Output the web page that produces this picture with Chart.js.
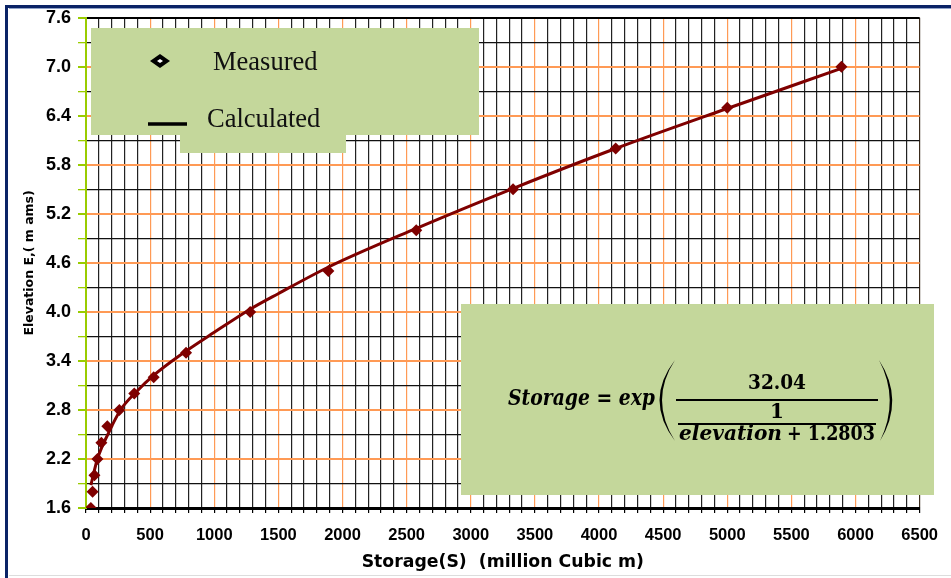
<!DOCTYPE html>
<html>
<head>
<meta charset="utf-8">
<script src="https://cdn.jsdelivr.net/npm/chart.js@4.4.1/dist/chart.umd.min.js"></script>
<style>
  html, body { margin: 0; padding: 0; background: #fff; }
  #wrap { width: 951px; height: 578px; }
</style>
</head>
<body>
<div id="wrap"><canvas id="elevChart" width="951" height="578"></canvas></div>
<script>
// measured points (storage in million m3, elevation in m)
const measuredStorage = [38, 51, 66, 89, 120, 166, 260, 376, 528, 780, 1280, 1890, 2575, 3330, 4130, 5000, 5890];
const measuredElevation = [1.6, 1.8, 2.0, 2.2, 2.4, 2.6, 2.8, 3.0, 3.2, 3.5, 4.0, 4.5, 5.0, 5.5, 6.0, 6.5, 7.0];

// calculated curve
const calcStorage = [38, 89, 179, 269, 397, 525, 725, 1000, 1277, 1495, 1892, 2572, 3328, 4130, 5000, 5890];
const calcElevation = [1.88, 2.20, 2.53, 2.80, 3.03, 3.22, 3.46, 3.75, 4.03, 4.22, 4.55, 5.02, 5.51, 6.00, 6.49, 6.98];

const xTickLabels = [0, 500, 1000, 1500, 2000, 2500, 3000, 3500, 4000, 4500, 5000, 5500, 6000, 6500];
const yTickLabels = [1.6, 2.2, 2.8, 3.4, 4.0, 4.6, 5.2, 5.8, 6.4, 7.0, 7.6];

const seriesColor = '#7f0000';
const boxGreen = '#c4d79b';
const orange = '#ff9a55';

function isYLabel(v) {
    return yTickLabels.some(t => Math.abs(t - v) < 1e-6);
}

// white page + navy frame
const framePlugin = {
    id: 'frame',
    beforeDraw(chart) {
        const ctx = chart.ctx;
        ctx.save();
        ctx.fillStyle = '#fff';
        ctx.fillRect(0, 0, chart.width, chart.height);
        ctx.strokeStyle = '#0a2366';
        ctx.lineWidth = 3;
        ctx.strokeRect(6.5, 6.5, 1000, 600);
        ctx.strokeStyle = '#8fa2c8';
        ctx.lineWidth = 1;
        ctx.beginPath();
        ctx.moveTo(9, 8.5); ctx.lineTo(951, 8.5);
        ctx.stroke();
        ctx.strokeStyle = '#dddddd';
        ctx.beginPath();
        ctx.moveTo(9, 575.5); ctx.lineTo(951, 575.5);
        ctx.stroke();
        ctx.restore();
    }
};

function fitText(ctx, text, x, y, width) {
    const w = ctx.measureText(text).width;
    ctx.save();
    ctx.translate(x, y);
    ctx.scale(width / w, 1);
    ctx.fillText(text, 0, 0);
    ctx.restore();
}

// legend box and equation box
const overlayPlugin = {
    id: 'overlays',
    afterDraw(chart) {
        const ctx = chart.ctx;
        ctx.save();

        // legend
        ctx.fillStyle = boxGreen;
        ctx.fillRect(91, 28, 388, 107);
        ctx.fillRect(180, 132, 166, 21);

        ctx.fillStyle = '#000';
        ctx.beginPath();
        ctx.moveTo(150, 61); ctx.lineTo(160, 54); ctx.lineTo(170, 61); ctx.lineTo(160, 68);
        ctx.closePath();
        ctx.fill();
        ctx.fillStyle = '#fff';
        ctx.beginPath();
        ctx.moveTo(157, 61); ctx.lineTo(160, 59); ctx.lineTo(163, 61); ctx.lineTo(160, 63);
        ctx.closePath();
        ctx.fill();

        ctx.strokeStyle = '#000';
        ctx.lineWidth = 3.5;
        ctx.beginPath();
        ctx.moveTo(148, 124); ctx.lineTo(187, 124);
        ctx.stroke();

        ctx.fillStyle = '#111';
        ctx.font = '26.5px "Liberation Serif"';
        ctx.textBaseline = 'alphabetic';
        ctx.fillText('Measured', 213, 70);
        ctx.fillText('Calculated', 207, 127);

        // equation box
        ctx.fillStyle = boxGreen;
        ctx.fillRect(461, 304, 473, 191);

        ctx.fillStyle = '#000';
        ctx.font = 'bold italic 22px "DejaVu Serif"';
        fitText(ctx, 'Storage = exp', 508, 405, 147);
        ctx.font = 'bold 20px "DejaVu Serif"';
        fitText(ctx, '32.04', 748, 389, 58);
        ctx.textAlign = 'center';
        ctx.fillText('1', 777, 418);
        ctx.textAlign = 'left';
        ctx.font = 'bold italic 21px "DejaVu Serif"';
        fitText(ctx, 'elevation', 679, 440, 103);
        ctx.font = 'bold 21px "DejaVu Serif"';
        fitText(ctx, '+ 1.2803', 787, 440, 88);

        ctx.fillRect(676, 399, 202, 2);
        ctx.fillRect(678, 423, 198, 2);

        // big parentheses
        ctx.beginPath();
        ctx.moveTo(675, 360);
        ctx.quadraticCurveTo(644, 400, 675, 441);
        ctx.quadraticCurveTo(649, 400, 675, 360);
        ctx.fill();
        ctx.beginPath();
        ctx.moveTo(879, 360);
        ctx.quadraticCurveTo(905, 400, 880, 441);
        ctx.quadraticCurveTo(900, 400, 879, 360);
        ctx.fill();

        ctx.restore();
    }
};

const xTickFont = { family: '"Liberation Sans", Arial', size: 16.5, weight: 'bold' };
const yTickFont = { family: '"Liberation Sans", Arial', size: 18, weight: 'bold' };

new Chart(document.getElementById('elevChart'), {
    type: 'scatter',
    data: {
        datasets: [{
            label: 'Measured',
            data: measuredStorage.map((s, i) => ({ x: s, y: measuredElevation[i] })),
            pointStyle: 'rectRot',
            pointRadius: 6,
            backgroundColor: seriesColor,
            borderColor: seriesColor,
            borderWidth: 0,
            showLine: false,
        }, {
            label: 'Calculated',
            data: calcStorage.map((s, i) => ({ x: s, y: calcElevation[i] })),
            showLine: true,
            pointRadius: 0,
            borderColor: seriesColor,
            borderWidth: 3,
            cubicInterpolationMode: 'monotone',
        }]
    },
    options: {
        responsive: false,
        animation: false,
        layout: { padding: { left: 0, right: 20, top: 17, bottom: 0 } },
        plugins: {
            legend: { display: false },
            tooltip: { enabled: false }
        },
        scales: {
            x: {
                type: 'linear',
                min: 0,
                max: 6500,
                afterFit: s => { s.height = 70; },
                border: { color: '#000', width: 3 },
                grid: {
                    color: c => {
                        const v = c.tick.value;
                        if (v === 0) return 'rgba(0,0,0,0)';
                        if (v === 6500) return '#3a2a1a';
                        return xTickLabels.includes(v) ? orange : '#222';
                    },
                    lineWidth: 1.2,
                    tickColor: '#000',
                    tickLength: 5,
                },
                ticks: {
                    stepSize: 100,
                    autoSkip: false,
                    maxRotation: 0,
                    padding: 13,
                    color: '#000',
                    font: xTickFont,
                    callback: v => xTickLabels.includes(v) ? String(v) : ''
                },
                title: {
                    display: true,
                    text: 'Storage(S)  (million Cubic m)',
                    color: '#000',
                    font: { family: '"DejaVu Sans"', size: 17.3, weight: 'bold' },
                    padding: { top: 0, bottom: 5 }
                }
            },
            y: {
                min: 1.6,
                max: 7.6,
                afterFit: s => { s.width = 86; },
                border: { color: '#99cc00', width: 2 },
                grid: {
                    color: c => {
                        const v = c.tick.value;
                        if (Math.abs(v - 7.6) < 1e-6) return '#000';
                        return isYLabel(v) ? orange : '#111';
                    },
                    lineWidth: c => isYLabel(c.tick.value) ? 2 : 1.3,
                    tickColor: '#99cc00',
                    tickLength: 8,
                },
                ticks: {
                    stepSize: 0.3,
                    autoSkip: false,
                    padding: 7,
                    color: '#000',
                    font: yTickFont,
                    callback: v => isYLabel(v) ? Number(v).toFixed(1) : ''
                },
                title: {
                    display: true,
                    text: 'Elevation E,( m ams)',
                    color: '#000',
                    font: { family: '"DejaVu Sans"', size: 12.5, weight: 'bold' },
                    padding: { top: 22, bottom: 0 }
                }
            }
        }
    },
    plugins: [framePlugin, overlayPlugin]
});
</script>
</body>
</html>
